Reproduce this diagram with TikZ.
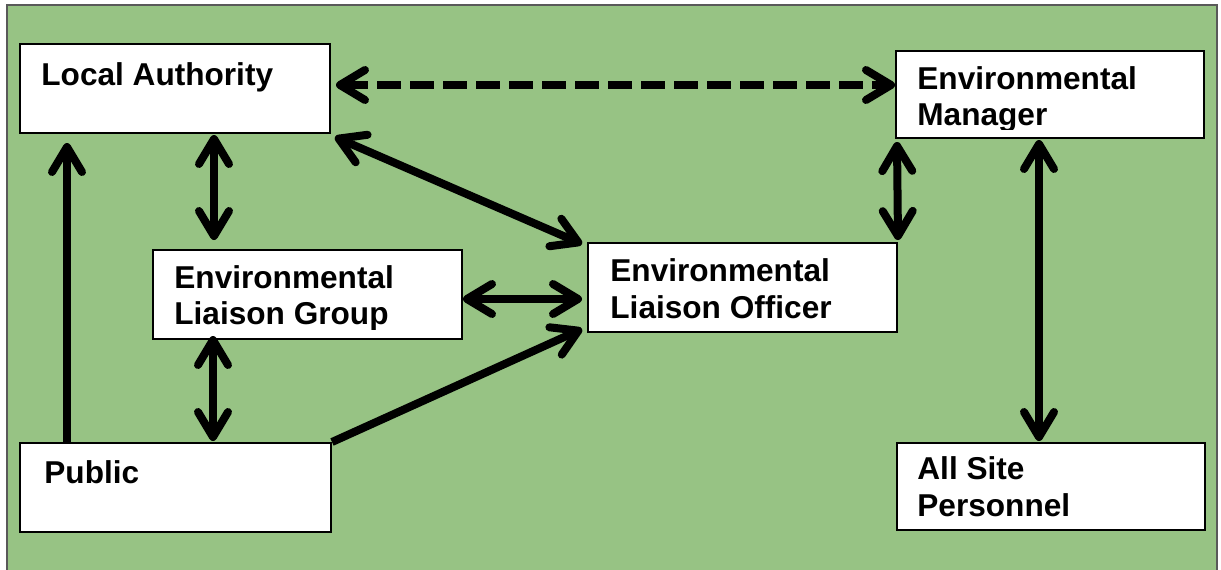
\documentclass[tikz,border=0pt]{standalone}
\usepackage{fontspec}
\setmainfont{Liberation Sans}
\usetikzlibrary{arrows.meta,calc,fit}
\definecolor{bggreen}{HTML}{97C384}
\definecolor{framegray}{HTML}{595959}
\begin{document}
\begin{tikzpicture}[x=0.5pt,y=-0.5pt,
  box/.style={draw=black, line width=1pt, fill=white, inner sep=0pt},
  lbl/.style={anchor=base west, inner sep=0pt, font=\fontsize{15.8pt}{18pt}\selectfont\bfseries},
  link/.style={line width=4pt, draw=black},
  >={Straight Barb[length=12.5pt,width=15pt,round]},
  dashlink/.style={link, line width=4pt, dash pattern=on 12pt off 4.5pt}
]
\useasboundingbox (0,0) rectangle (1221,569);
\clip (0,0) rectangle (1221,569);
\fill[white] (0,0) rectangle (1221,569);
\draw[framegray, line width=1pt, fill=bggreen] (7,4.5) rectangle (1217,620);

% boxes
\node[box, fit={(20,44)(330,133)}] (la) {};
\node[box, fit={(896,51)(1204,138)}] (em) {};
\node[box, fit={(153,250)(462,339)}] (elg) {};
\node[box, fit={(588,243)(897,332)}] (elo) {};
\node[box, fit={(20,443)(331,532)}] (pub) {};
\node[box, fit={(897,443)(1205,530)}] (asp) {};

% texts
\node[lbl] (lat) at ($(la.north west)+(22,42)$) {Local Authority};
\begin{scope}
  \clip (em.north west) rectangle ($(em.south east)+(0,-10)$);
  \node[lbl] (emt1) at ($(em.north west)+(22,39)$) {Environmental};
  \node[lbl] (emt2) at ($(em.north west)+(22,75)$) {Manager};
\end{scope}
\begin{scope}
  \clip (elg.north west) rectangle ($(elg.south east)+(0,-11)$);
  \node[lbl] (elgt1) at ($(elg.north west)+(22,39)$) {Environmental};
  \node[lbl] (elgt2) at ($(elg.north west)+(22,75)$) {Liaison Group};
\end{scope}
\node[lbl] (elot1) at ($(elo.north west)+(23,39)$) {Environmental};
\node[lbl] (elot2) at ($(elo.north west)+(23,76)$) {Liaison Officer};
\node[lbl] (pubt) at ($(pub.north west)+(25,41)$) {Public};
\node[lbl] (aspt1) at ($(asp.north west)+(21,37)$) {All Site};
\node[lbl] (aspt2) at ($(asp.north west)+(21,74)$) {Personnel};

% connectors
\draw[dashlink, <->] ($(la.north east)+(5,42)$) -- ($(em.north west)+(0,35)$);
\draw[link, <->] ($(la.south west)+(195,1)$) -- ($(elg.north west)+(62,-9)$);
\draw[link, <->] ($(la.south east)+(4,3)$) -- ($(elo.north west)+(-5,2)$);
\draw[link, <->] ($(elg.north east)+(0,50)$) -- ($(elo.north west)+(-5,57)$);
\draw[link, ->] (pub.north east) -- ($(elo.south west)+(-5,-4)$);
\draw[link, ->] ($(pub.north west)+(48,0)$) -- ($(la.south west)+(48,9)$);
\draw[link, <->] ($(elg.south west)+(61,-4)$) -- ($(pub.north west)+(194,-1)$);
\draw[link, <->] ($(em.south west)+(2,3)$) -- ($(elo.north east)+(0,-2)$);
\draw[link, <->] ($(em.south west)+(144,1)$) -- ($(asp.north west)+(143,-1)$);
\end{tikzpicture}
\end{document}
